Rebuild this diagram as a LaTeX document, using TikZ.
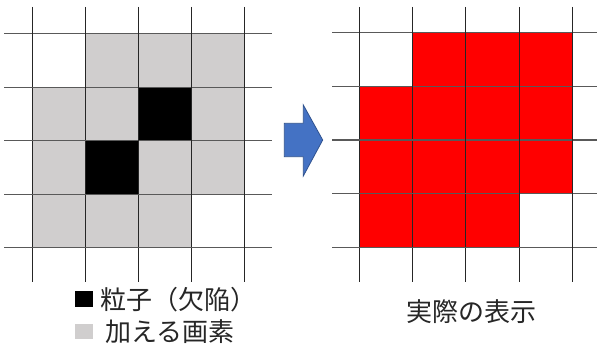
\documentclass[tikz,border=0pt]{standalone}
\usepackage{fontspec}
\newfontfamily\cjk{Noto Sans CJK JP}
\definecolor{cellgray}{HTML}{D0CECE}
\definecolor{cellred}{HTML}{FF0000}
\definecolor{arrowfill}{HTML}{4472C4}
\definecolor{arrowline}{HTML}{2F528F}
\tikzset{
  hline/.style={draw=black!65, line width=1.1pt},
  vline/.style={draw=black!85, line width=1pt},
  lbl/.style={font=\cjk\fontsize{26}{30}\selectfont, inner sep=0pt, text=black!85},
  key/.style={inner sep=0pt, minimum width=18pt, minimum height=16.5pt}
}
\begin{document}
\begin{tikzpicture}[x=1pt,y=-1pt]
\useasboundingbox (0,0) rectangle (597,347);
\fill[white] (0,0) rectangle (597,347);
% ---------- left grid ----------
% gray cells
\foreach \c/\r in {1/0,2/0,3/0, 0/1,1/1,3/1, 0/2,2/2,3/2, 0/3,1/3,2/3}
  \fill[cellgray] ({32+53*\c},{33.5+53.6*\r}) rectangle ({32+53*(\c+1)},{33.5+53.6*(\r+1)});
% black cells
\foreach \c/\r in {2/1, 1/2}
  \fill[black] ({32+53*\c},{33.5+53.6*\r}) rectangle ({32+53*(\c+1)},{33.5+53.6*(\r+1)});
\foreach \k in {0,...,4} {
  \draw[hline] (4,{33.5+53.6*\k}) -- (272,{33.5+53.6*\k});
  \draw[vline] ({32+53*\k},7) -- ({32+53*\k},282);
}
% ---------- right grid ----------
\foreach \c/\r in {1/0,2/0,3/0, 0/1,1/1,2/1,3/1, 0/2,1/2,2/2,3/2, 0/3,1/3,2/3}
  \fill[cellred] ({359.3+53.25*\c},{32.3+53.85*\r}) rectangle ({359.3+53.25*(\c+1)},{32.3+53.85*(\r+1)});
\foreach \k in {0,...,4} {
  \draw[hline] (332,{32.3+53.85*\k}) -- (597,{32.3+53.85*\k});
  \draw[vline] ({359.3+53.25*\k},7) -- ({359.3+53.25*\k},282);
}
% ---------- arrow ----------
\draw[fill=arrowfill, draw=arrowline, line width=0.8pt, line join=miter]
  (284.3,123.3) -- (303.3,123.3) -- (303.3,105) -- (322.7,140) -- (303.3,176)
  -- (303.3,156.7) -- (284.3,156.7) -- cycle;
% ---------- legend ----------
\node[key, fill=black] (k1) at (84.2,299.2) {};
\node[lbl, anchor=base west] (t1) at (100,310) {粒子（欠陥）};
\node[key, fill=cellgray, minimum height=15pt] (k2) at (84.2,331.8) {};
\node[lbl, anchor=base west] (t2) at (105,341.5) {加える画素};
\node[lbl, anchor=base] (t3) at (471.7,321.5) {実際の表示};
\end{tikzpicture}
\end{document}
